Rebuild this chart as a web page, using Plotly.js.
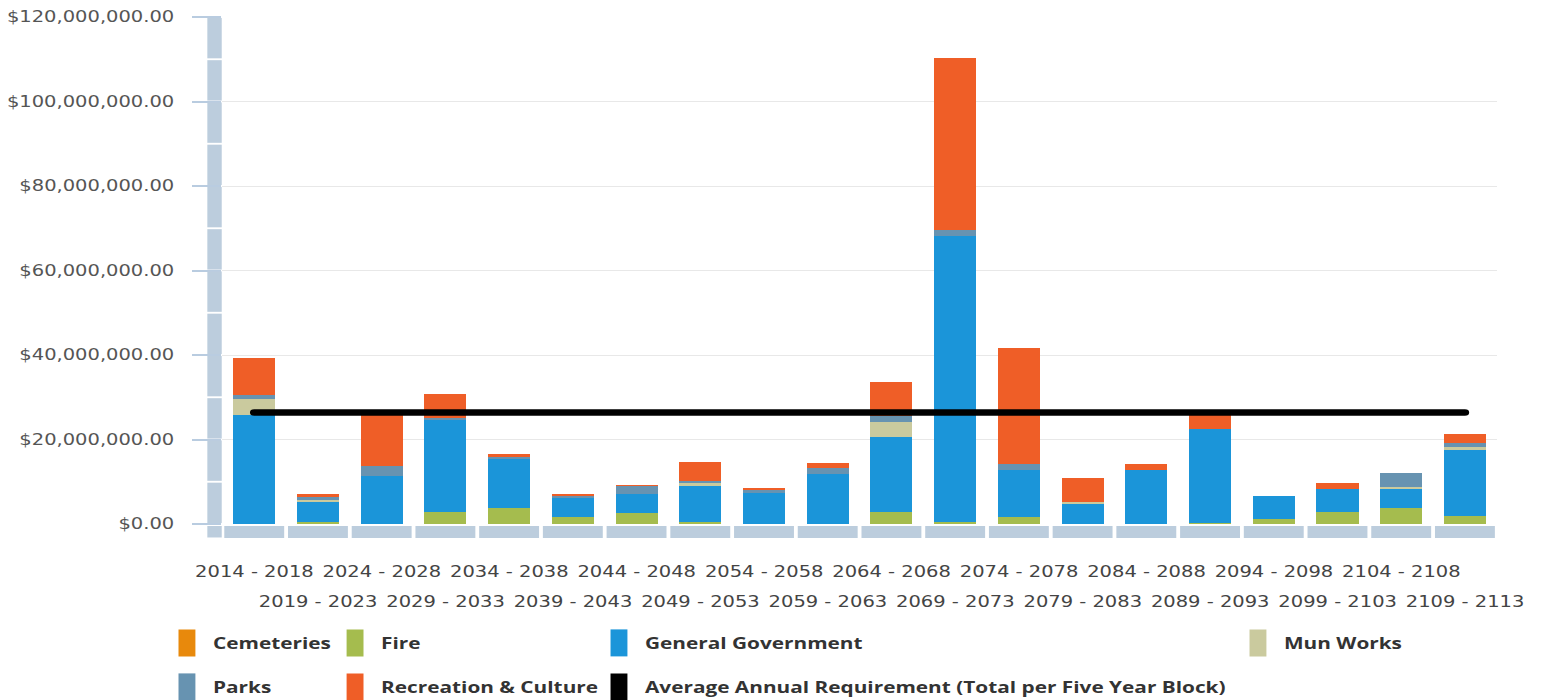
<!DOCTYPE html>
<html>
<head>
<meta charset="utf-8">
<script src="https://cdn.plot.ly/plotly-3.0.1.min.js"></script>
<style>
html,body{margin:0;padding:0;background:#fff;overflow:hidden;}
#wrap{width:1541px;height:700px;overflow:hidden;position:relative;}
#chart{width:1185px;height:700px;transform:scaleX(1.30042);transform-origin:0 0;}
.legendpoints path{ d: path("M6.5,13.5H-6.5V-13.5H6.5Z"); }
.scatterlayer .js-line{ stroke-linecap: round; }
</style>
</head>
<body>
<div id="wrap"><div id="chart"></div></div>
<script>
// ---- data ----
const categories = [
  "2014 - 2018","2019 - 2023","2024 - 2028","2029 - 2033","2034 - 2038",
  "2039 - 2043","2044 - 2048","2049 - 2053","2054 - 2058","2059 - 2063",
  "2064 - 2068","2069 - 2073","2074 - 2078","2079 - 2083","2084 - 2088",
  "2089 - 2093","2094 - 2098","2099 - 2103","2104 - 2108","2109 - 2113"
];
const cemeteries = [0,0,0,0,0,0,0,0,0,0,0,0,0,0,0,0,0,0,0,0];
const fire = [0,500000,0,2900000,3900000,1600000,2700000,400000,0,0,
              2900000,500000,1700000,0,0,300000,1100000,2900000,3800000,1900000];
const generalGovernment = [25800000,4600000,11400000,21900000,11700000,4700000,4400000,8500000,7400000,11800000,
              17800000,67700000,11200000,4900000,12800000,22100000,5500000,5300000,4500000,15600000];
const munWorks = [3700000,600000,0,0,0,0,0,700000,0,0,
              3500000,0,0,400000,0,0,0,0,400000,800000];
const parks = [1000000,900000,2400000,300000,300000,300000,1900000,600000,600000,1400000,
              1300000,1400000,1200000,0,0,0,0,0,3300000,800000];
const recreationCulture = [8900000,400000,12200000,5700000,700000,600000,100000,4400000,600000,1300000,
              8200000,40600000,27600000,5500000,1300000,3800000,0,1400000,0,2100000];
const averageAnnualRequirement = 26400000;

const seriesNames = ["Cemeteries","Fire","General Government","Mun Works","Parks","Recreation & Culture"];
const seriesValues = [cemeteries, fire, generalGovernment, munWorks, parks, recreationCulture];
const seriesColors = ["#e8890c","#a5bc4e","#1b95d9","#caca9e","#6793b1","#ef5e27"];
const avgName = "Average Annual Requirement (Total per Five Year Block)";

// legend placement (which legend box each series goes to)
const legendIds = ["legend","legend2","legend3","legend4","legend5","legend6"];

const traces = seriesNames.map((n, i) => ({
  type: "bar",
  name: n,
  x: categories,
  y: seriesValues[i],
  marker: {color: seriesColors[i], line: {width: 0}},
  legend: legendIds[i],
  hovertemplate: "%{x}<br>" + n + ": %{y:$,.2f}<extra></extra>"
}));

traces.push({
  type: "scatter", mode: "lines",
  name: avgName,
  x: [categories[0], categories[categories.length - 1]],
  y: [averageAnnualRequirement, averageAnnualRequirement],
  line: {color: "#000000", width: 6.5},
  showlegend: false, legendgroup: "avg", legend: "legend7",
  hovertemplate: avgName + ": %{y:$,.2f}<extra></extra>"
});
// legend entry for the average line (square symbol as in the original)
traces.push({
  type: "bar", name: avgName, x: [categories[0]], y: [null],
  marker: {color: "#000000", line: {width: 0}},
  legendgroup: "avg", legend: "legend7", hoverinfo: "skip"
});

// ---- decorative axis blocks ----
const blockColor = "#bccddd";
const shapes = [];
for (let k = 0; k < 12; k++) {
  shapes.push({type: "rect", xref: "paper", yref: "y", x0: -0.0118, x1: -0.0005,
    y0: k * 10000000 + 220000, y1: (k + 1) * 10000000 - 220000,
    fillcolor: blockColor, line: {width: 0}, layer: "above"});
}
shapes.push({type: "rect", xref: "paper", yref: "paper", x0: -0.0118, x1: -0.0005,
  y0: -0.0039, y1: -0.0266, fillcolor: blockColor, line: {width: 0}, layer: "above"});
categories.forEach((c, i) => {
  shapes.push({type: "rect", xref: "x", yref: "paper", x0: i - 0.47, x1: i + 0.47,
    y0: -0.0039, y1: -0.0276, fillcolor: blockColor, line: {width: 0}, layer: "above"});
});

// ---- staggered category labels ----
const annotations = categories.map((c, i) => ({
  x: c, y: 0, xref: "x", yref: "paper", text: c, showarrow: false,
  xanchor: "center", yanchor: "middle", yshift: (i % 2 === 0) ? -48 : -78,
  font: {family: "DejaVu Sans, Verdana, sans-serif", size: 15, color: "#444"}
}));

const legendFont = {family: "Open Sans, Noto Sans, sans-serif", size: 16, color: "#333", weight: "bold"};
function leg(x, y) {
  return {x: x, y: y, xanchor: "left", yanchor: "middle", orientation: "v",
    font: legendFont, bgcolor: "rgba(0,0,0,0)", borderwidth: 0};
}
const row1 = -0.2347, row2 = -0.3215;
const colX = [-0.0482, 0.0837, 0.2908, 0.7922];

const layout = {
  width: 1185, height: 700,
  margin: {l: 171, r: 34, t: 17, b: 176, autoexpand: false},
  paper_bgcolor: "#ffffff", plot_bgcolor: "#ffffff",
  barmode: "stack", bargap: 0.34,
  showlegend: true,
  xaxis: {type: "category", range: [-0.5, categories.length - 0.5],
    showticklabels: false, ticks: "", showgrid: false, zeroline: false, showline: false},
  yaxis: {range: [0, 120000000], tick0: 0, dtick: 20000000, tickformat: "$,.2f",
    showgrid: true, gridcolor: "#e8e8e8", gridwidth: 1, zeroline: false, showline: false,
    ticks: "outside", ticklen: 22, tickwidth: 1.5, tickcolor: "#b9cce0",
    ticklabelstandoff: 11,
    tickfont: {family: "DejaVu Sans, Verdana, sans-serif", size: 15, color: "#555"}},
  legend: leg(colX[0], row1),
  legend2: leg(colX[1], row1),
  legend3: leg(colX[2], row1),
  legend4: leg(colX[3], row1),
  legend5: leg(colX[0], row2),
  legend6: leg(colX[1], row2),
  legend7: leg(colX[2], row2),
  shapes: shapes,
  annotations: annotations
};

Plotly.newPlot("chart", traces, layout, {displayModeBar: false, responsive: false});
</script>
</body>
</html>
